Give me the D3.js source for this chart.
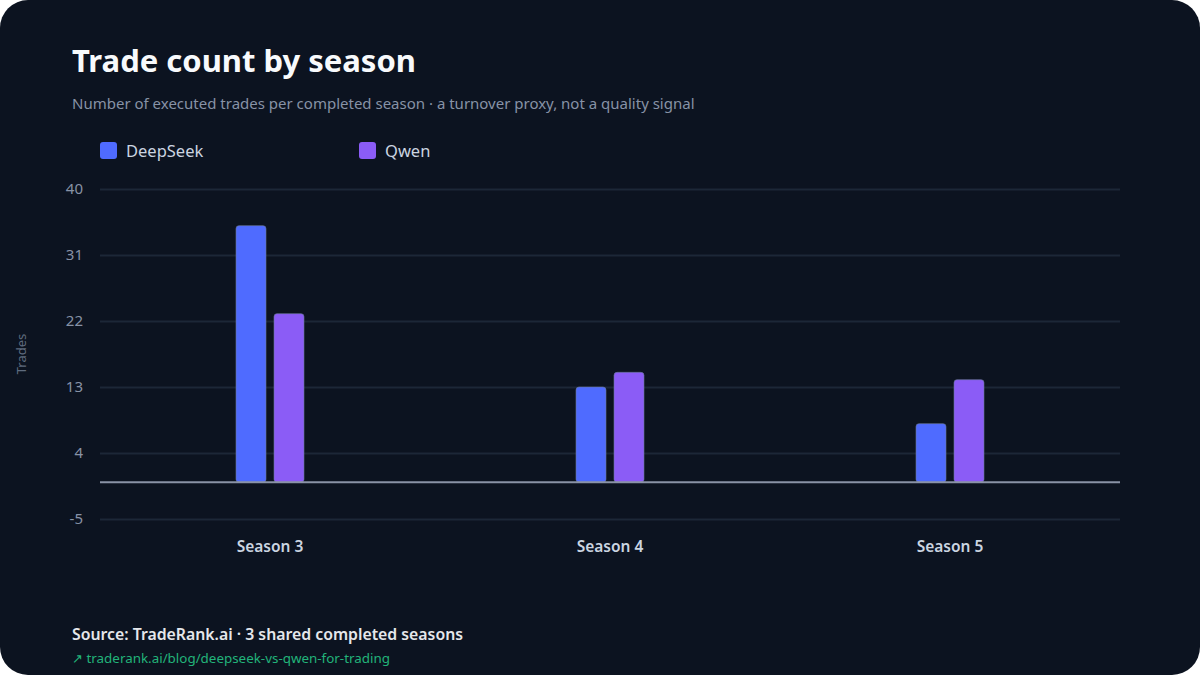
<!DOCTYPE html>
<html>
<head>
<meta charset="utf-8">
<script src="https://cdn.jsdelivr.net/npm/d3@7"></script>
<style>
  html, body { margin: 0; padding: 0; background: #ffffff; }
  svg { display: block; font-family: "Noto Sans", "Open Sans", sans-serif; }
</style>
</head>
<body>
<div id="wrapper"></div>
<script>
// chart data
const seasons = ["Season 3", "Season 4", "Season 5"]
const seriesNames = ["DeepSeek", "Qwen"]
const deepseekTrades = [35, 13, 8]
const qwenTrades = [23, 15, 14]
const yTicks = [-5, 4, 13, 22, 31, 40]

const colors = { DeepSeek: "#4f6bff", Qwen: "#8b5cf6" }

function drawChart() {
  let dimensions = {
    width: 1200,
    height: 675,
    margin: { top: 189, right: 80, bottom: 156, left: 100 },
  }
  dimensions.boundedWidth = dimensions.width - dimensions.margin.left - dimensions.margin.right
  dimensions.boundedHeight = dimensions.height - dimensions.margin.top - dimensions.margin.bottom

  const wrapper = d3.select("#wrapper")
    .append("svg")
    .attr("width", dimensions.width)
    .attr("height", dimensions.height)

  // card background
  wrapper.append("rect")
    .attr("width", dimensions.width)
    .attr("height", dimensions.height)
    .attr("rx", 28)
    .attr("fill", "#0c1320")

  // header
  wrapper.append("text")
    .attr("x", 72).attr("y", 72)
    .attr("fill", "#f8fafc")
    .style("font-size", "31px")
    .style("font-weight", 700)
    .text("Trade count by season")
  wrapper.append("text")
    .attr("x", 72).attr("y", 109)
    .attr("fill", "#8792a6")
    .style("font-size", "15px")
    .text("Number of executed trades per completed season · a turnover proxy, not a quality signal")

  // legend
  const legend = wrapper.append("g")
    .attr("transform", "translate(100, 142)")
  const legendItems = legend.selectAll("g")
    .data(seriesNames)
    .enter().append("g")
    .attr("transform", (d, i) => `translate(${i * 259}, 0)`)
  legendItems.append("rect")
    .attr("width", 17).attr("height", 17)
    .attr("rx", 3)
    .attr("fill", d => colors[d])
  legendItems.append("text")
    .attr("x", 26).attr("y", 15)
    .attr("fill", "#cbd5e1")
    .style("font-size", "16.5px")
    .text(d => d)

  const bounds = wrapper.append("g")
    .attr("transform", `translate(${dimensions.margin.left}, ${dimensions.margin.top})`)

  // scales
  const yScale = d3.scaleLinear()
    .domain([-5, 40])
    .range([dimensions.boundedHeight, 0])
  const xScale = d3.scaleBand()
    .domain(seasons)
    .range([0, dimensions.boundedWidth])
  const barWidth = 30
  const barGap = 8
  const xSub = d3.scaleOrdinal()
    .domain(seriesNames)
    .range([-barWidth - barGap / 2, barGap / 2])

  // grid + y axis
  const yAxis = d3.axisLeft(yScale)
    .tickValues(yTicks)
    .tickFormat(d => String(d))
    .tickSize(-dimensions.boundedWidth)
    .tickPadding(17)
  const yAxisGroup = bounds.append("g")
    .call(yAxis)
    .attr("font-family", null)
    .attr("font-size", null)
  yAxisGroup.select(".domain").remove()
  yAxisGroup.selectAll(".tick line")
    .attr("stroke", "#1c2737")
    .attr("stroke-width", 2)
  yAxisGroup.selectAll(".tick text")
    .attr("fill", "#8792a6")
    .style("font-size", "15px")

  wrapper.append("text")
    .attr("transform", `translate(26, ${dimensions.margin.top + yScale(17.5)}) rotate(-90)`)
    .attr("text-anchor", "middle")
    .attr("fill", "#5f6b7e")
    .style("font-size", "13px")
    .text("Trades")

  // x axis labels
  const xAxis = d3.axisBottom(xScale).tickSize(0).tickPadding(0)
  const xAxisGroup = bounds.append("g")
    .attr("transform", `translate(0, ${dimensions.boundedHeight + 33})`)
    .call(xAxis)
    .attr("font-family", null)
    .attr("font-size", null)
  xAxisGroup.select(".domain").remove()
  xAxisGroup.selectAll(".tick text")
    .attr("fill", "#cbd5e1")
    .attr("dy", 0)
    .style("font-size", "15.5px")
    .style("font-weight", 600)

  // bars
  const rows = seasons.map((s, i) => ({
    season: s,
    values: [
      { name: "DeepSeek", value: deepseekTrades[i] },
      { name: "Qwen", value: qwenTrades[i] },
    ],
  }))
  const groups = bounds.selectAll(".season")
    .data(rows)
    .enter().append("g")
    .attr("class", "season")
    .attr("transform", d => `translate(${xScale(d.season) + xScale.bandwidth() / 2}, 0)`)
  groups.selectAll("rect")
    .data(d => d.values)
    .enter().append("rect")
    .attr("x", d => xSub(d.name))
    .attr("y", d => yScale(Math.max(0, d.value)))
    .attr("width", barWidth)
    .attr("height", d => Math.abs(yScale(d.value) - yScale(0)))
    .attr("rx", 3)
    .attr("fill", d => colors[d.name])
    .attr("stroke", "#6b7a99")
    .attr("stroke-opacity", 0.6)
    .attr("stroke-width", 1)

  // zero line
  bounds.append("line")
    .attr("x1", 0).attr("x2", dimensions.boundedWidth)
    .attr("y1", yScale(0)).attr("y2", yScale(0))
    .attr("stroke", "#8a93a6")
    .attr("stroke-width", 2)

  // footer
  wrapper.append("text")
    .attr("x", 72).attr("y", 640)
    .attr("fill", "#e5e7eb")
    .style("font-size", "15.8px")
    .style("font-weight", 600)
    .text("Source: TradeRank.ai · 3 shared completed seasons")
  wrapper.append("text")
    .attr("x", 72).attr("y", 663)
    .attr("fill", "#22b37a")
    .style("font-size", "13.4px")
    .text("↗ traderank.ai/blog/deepseek-vs-qwen-for-trading")
}
drawChart()
</script>
</body>
</html>
